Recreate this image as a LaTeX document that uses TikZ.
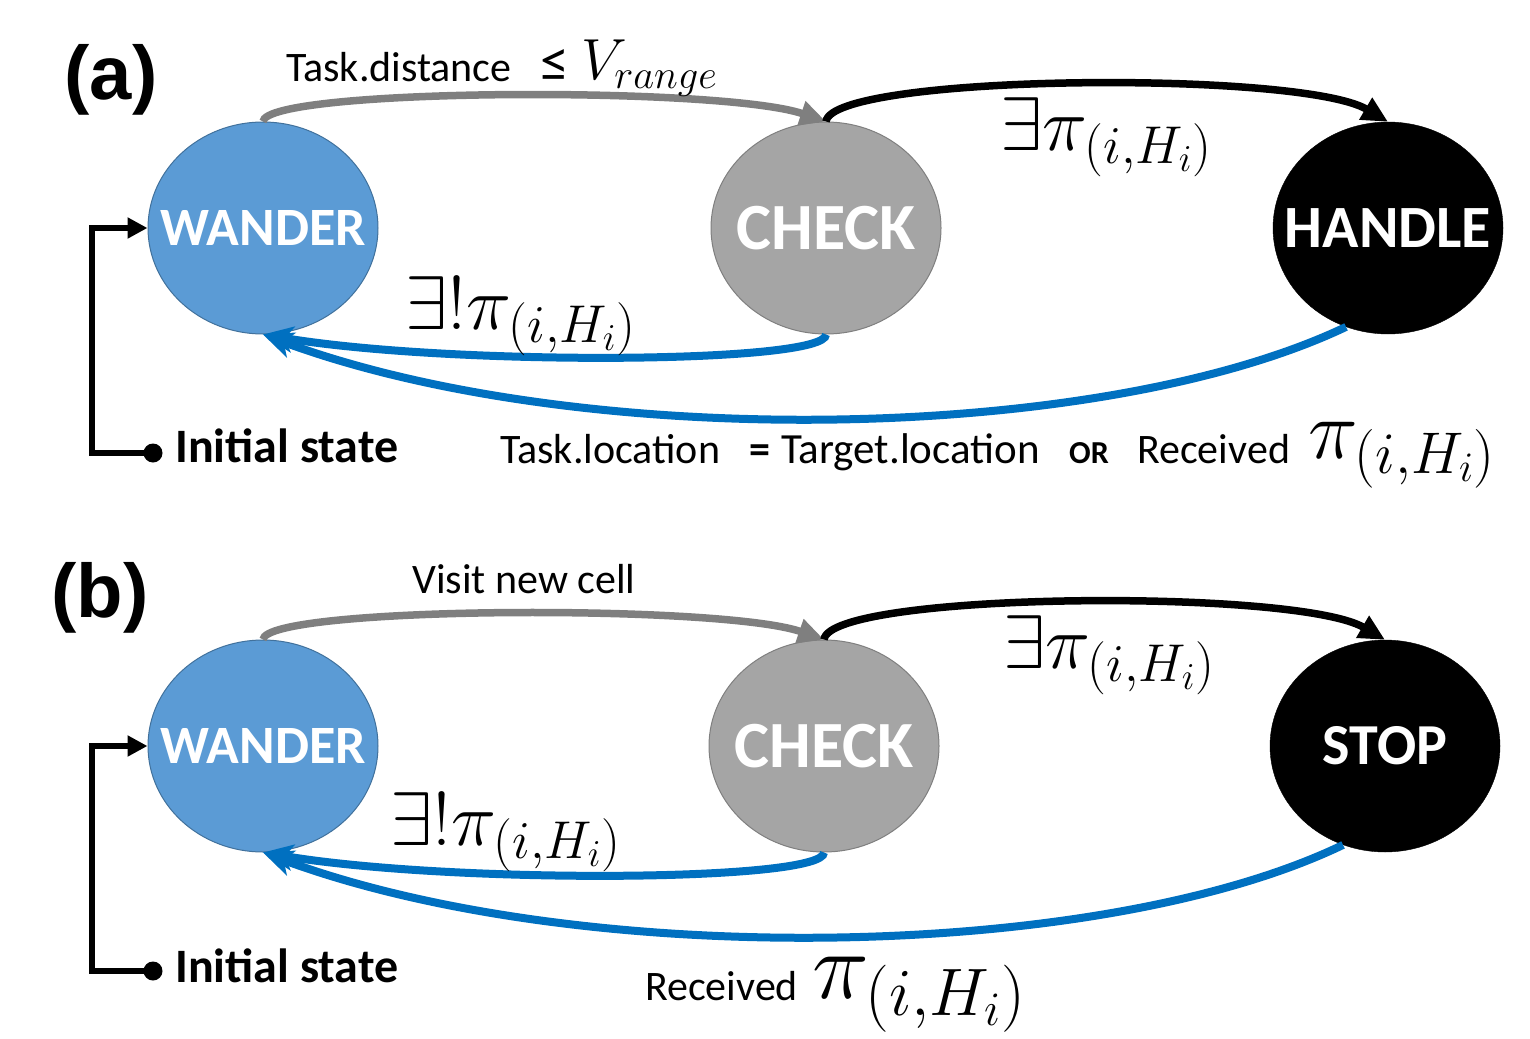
\RequirePackage{fix-cm}
\documentclass[tikz,border=0pt]{standalone}
\usepackage{fontspec}
\setmainfont{Carlito}
\newfontfamily\arialfont{Liberation Sans}
\usetikzlibrary{shapes.geometric,arrows.meta}
\definecolor{wfill}{HTML}{5B9BD5}
\definecolor{wdraw}{HTML}{41719C}
\definecolor{cfill}{HTML}{A5A5A5}
\definecolor{cdraw}{HTML}{7F7F7F}
\definecolor{barrow}{HTML}{0070C0}
\definecolor{garrow}{HTML}{7F7F7F}
\begin{document}
\begin{tikzpicture}[x=1pt,y=-1pt,
  state/.style={ellipse, minimum width=230pt, minimum height=212pt, inner sep=0pt},
  wander/.style={state, fill=wfill, draw=wdraw, line width=1pt},
  checkst/.style={state, fill=cfill, draw=cdraw, line width=1pt},
  darkst/.style={state, fill=black, draw=black},
  stxt/.style={inner sep=0pt, text=white, font=\fontsize{#1}{#1}\selectfont\bfseries},
  grayarr/.style={draw=garrow, line width=7.5pt, -{Triangle[length=26pt,width=24pt]}},
  blackarr/.style={draw=black, line width=7.5pt, -{Triangle[length=26pt,width=24pt]}},
  bluearr/.style={draw=barrow, line width=8pt, -{Stealth[length=30pt,width=26pt,inset=8pt]}},
  initarr/.style={draw=black, line width=5.5pt, -{Triangle[length=20pt,width=20pt]}},
  dotst/.style={circle, fill=black, inner sep=0pt, minimum size=19pt},
  lbl/.style={inner sep=0pt, anchor=base west, font=\fontsize{42}{48}\selectfont},
  mlbl/.style={inner sep=0pt, anchor=base west, font=\fontsize{76}{86}\selectfont},
  initlbl/.style={inner sep=0pt, anchor=base west, font=\fontsize{48}{54}\selectfont\bfseries},
  panel/.style={inner sep=0pt, font=\fontsize{76}{84}\selectfont\arialfont\bfseries}
]
\useasboundingbox (0,0) rectangle (1530,1038);

% ---------------- panel (a) ----------------
\node[panel] (pa) at (111,80) {(a)};
\node[wander] (wa) at (263,228) {};
\node[checkst] (ca) at (826,228) {};
\node[darkst] (ha) at (1388,228) {};
\node[stxt=54] (wat) at (wa.center) {WANDER};
\node[stxt=66] (cat) at (ca.center) {CHECK};
\node[stxt=60] (hat) at (ha.center) {HANDLE};

\draw[grayarr] (wa.north) .. controls (266,88) and (720,86) .. (ca.north);
\draw[blackarr] (ca.north) .. controls (832,74) and (1300,70) .. (ha.north);
\draw[bluearr] (ca.south) .. controls (826,364) and (450,366) .. (wa.south);
\draw[bluearr] (ha.247) .. controls (1100,444) and (580,452) .. (wa.south);

\node[dotst] (da) at (153,453) {};
\coordinate (ka) at (92,453);
\draw[initarr] (da.center) -- (ka) |- (wa.west);

\node[lbl] (ta) at (286,82) {Task.distance};
\node[lbl, font=\fontsize{58}{60}\selectfont] (le) at (540,82) {≤};
\node[lbl, font=\fontsize{58}{60}\selectfont] (va) at (581,80) {$V_{range}$};
\node[mlbl] (ea) at (1000,150) {$\exists\pi_{(i,H_i)}$};
\node[mlbl] (ua) at (405,329) {$\exists!\pi_{(i,H_i)}$};
\node[initlbl] (ia) at (175,462) {Initial state};
\node[lbl] (la1) at (500,463) {Task.location};
\node[lbl, font=\fontsize{42}{48}\selectfont\bfseries] (la2) at (749,463) {=};
\node[lbl, font=\fontsize{43}{48}\selectfont] (la3) at (781,463) {Target.location};
\node[lbl, font=\fontsize{32}{36}\selectfont\bfseries] (la4) at (1069,463) {OR};
\node[lbl] (la5) at (1137,463) {Received};
\node[lbl, font=\fontsize{84}{90}\selectfont] (la6) at (1308,458) {$\pi_{(i,H_i)}$};

% ---------------- panel (b) ----------------
\node[panel] (pb) at (100,598) {(b)};
\node[wander] (wb) at (263,746) {};
\node[checkst] (cb) at (824,746) {};
\node[darkst] (sb) at (1385,746) {};
\node[stxt=54] (wbt) at (wb.center) {WANDER};
\node[stxt=66] (cbt) at (cb.center) {CHECK};
\node[stxt=58] (sbt) at (sb.center) {STOP};

\draw[grayarr] (wb.north) .. controls (266,606) and (720,604) .. (cb.north);
\draw[blackarr] (cb.north) .. controls (830,592) and (1296,588) .. (sb.north);
\draw[bluearr] (cb.south) .. controls (824,882) and (450,884) .. (wb.south);
\draw[bluearr] (sb.247) .. controls (1100,962) and (580,970) .. (wb.south);

\node[dotst] (db) at (153,971) {};
\coordinate (kb) at (92,971);
\draw[initarr] (db.center) -- (kb) |- (wb.west);

\node[lbl] (tb) at (412,593) {Visit new cell};
\node[mlbl] (eb) at (1003,668) {$\exists\pi_{(i,H_i)}$};
\node[mlbl] (ub) at (390,845) {$\exists!\pi_{(i,H_i)}$};
\node[initlbl] (ib) at (175,982) {Initial state};
\node[lbl] (rb) at (645,1000) {Received};
\node[lbl, font=\fontsize{96}{100}\selectfont] (rbm) at (812,998) {$\pi_{(i,H_i)}$};
\end{tikzpicture}
\end{document}
